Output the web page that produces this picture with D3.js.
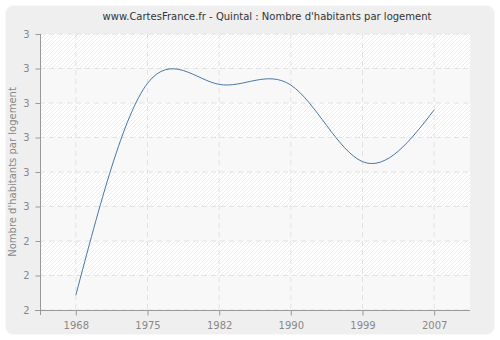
<!DOCTYPE html>
<html>
<head>
<meta charset="utf-8">
<script src="https://cdn.jsdelivr.net/npm/d3@7"></script>
<style>
  body { margin: 0; background: #fff; }
  svg { display: block; font-family: "DejaVu Sans", Verdana, sans-serif; }
</style>
</head>
<body>
<script>
var years = ["1968", "1975", "1982", "1990", "1999", "2007"];
var values = [2.243, 2.857, 2.854, 2.852, 2.630, 2.780];
var yTicks = [2.2, 2.3, 2.4, 2.5, 2.6, 2.7, 2.8, 2.9, 3.0];
var yTickLabels = ["2", "2", "2", "3", "3", "3", "3", "3", "3"];

var width = 500,
    height = 340,
    margin = {top: 34, right: 30, bottom: 30, left: 40};

var svg = d3.select("body").append("svg")
    .attr("width", width)
    .attr("height", height);

var defs = svg.append("defs");
var pat = defs.append("pattern")
    .attr("id", "hatch")
    .attr("patternUnits", "userSpaceOnUse")
    .attr("width", 4)
    .attr("height", 4);
pat.append("rect").attr("width", 4).attr("height", 4).attr("fill", "#ffffff");
pat.append("path")
    .attr("d", "M-1,1 l2,-2 M0,4 l4,-4 M3,5 l2,-2")
    .attr("stroke", "#e8e8e8")
    .attr("stroke-width", 0.8);

// outer panel
svg.append("rect")
    .attr("x", 5.5).attr("y", 5.5)
    .attr("width", 489).attr("height", 329)
    .attr("rx", 8)
    .attr("fill", "#efefef")
    .attr("stroke", "#f8f8f8");

var x0 = 40, x1 = 470, y0 = 310, y1 = 34;

var x = d3.scalePoint()
    .domain(years)
    .range([x0, x1])
    .padding(0.5);

var y = d3.scaleLinear()
    .domain([2.2, 3.0])
    .range([y0, y1]);

var g = svg.append("g");

// bands
g.selectAll(".band")
    .data(yTicks.slice(0, -1))
  .enter().append("rect")
    .attr("x", x0)
    .attr("width", x1 - x0)
    .attr("y", function(d, i) { return y(yTicks[i + 1]); })
    .attr("height", function(d, i) { return y(d) - y(yTicks[i + 1]); })
    .attr("fill", function(d, i) { return i % 2 === 0 ? "#f8f8f8" : "url(#hatch)"; });

// grid
g.selectAll(".hgrid")
    .data(yTicks)
  .enter().append("line")
    .attr("x1", x0).attr("x2", x1)
    .attr("y1", function(d) { return y(d); })
    .attr("y2", function(d) { return y(d); })
    .attr("stroke", "#e2e2e2")
    .attr("stroke-dasharray", "5,4");

g.selectAll(".vgrid")
    .data(years)
  .enter().append("line")
    .attr("x1", function(d) { return x(d); })
    .attr("x2", function(d) { return x(d); })
    .attr("y1", y1).attr("y2", y0)
    .attr("stroke", "#e2e2e2")
    .attr("stroke-dasharray", "5,4");

// axes
var xAxis = svg.append("g")
    .attr("transform", "translate(0," + (y0 + 0.5) + ")")
    .call(d3.axisBottom(x).tickSize(5).tickPadding(6));
xAxis.select(".domain").attr("d", "M35,0H" + x1);

var yAxis = svg.append("g")
    .attr("transform", "translate(" + (x0 + 0.5) + ",0)")
    .call(d3.axisLeft(y).tickValues(yTicks)
      .tickFormat(function(d, i) { return yTickLabels[i]; })
      .tickSize(5).tickPadding(6));
yAxis.select(".domain").attr("d", "M0," + y1 + "V" + (y0 + 5));

svg.selectAll(".domain").attr("stroke", "#999");
svg.selectAll(".tick line").attr("stroke", "#999");
svg.selectAll(".tick text")
    .attr("fill", "#888")
    .style("font-size", "10px")
    .style("font-family", "\"DejaVu Sans\", sans-serif");

// line
var line = d3.line()
    .x(function(d, i) { return x(years[i]); })
    .y(function(d) { return y(d); })
    .curve(d3.curveNatural);

svg.append("path")
    .datum(values)
    .attr("fill", "none")
    .attr("stroke", "#4a76a8")
    .attr("stroke-width", 1)
    .attr("d", line);

// title
svg.append("text")
    .attr("x", 267)
    .attr("y", 20)
    .attr("text-anchor", "middle")
    .style("font-size", "10px")
    .attr("fill", "#333")
    .text("www.CartesFrance.fr - Quintal : Nombre d'habitants par logement");

svg.append("text")
    .attr("transform", "translate(16," + ((y0 + y1) / 2) + ") rotate(-90)")
    .attr("text-anchor", "middle")
    .style("font-size", "10px")
    .attr("fill", "#888")
    .text("Nombre d'habitants par logement");
</script>
</body>
</html>
